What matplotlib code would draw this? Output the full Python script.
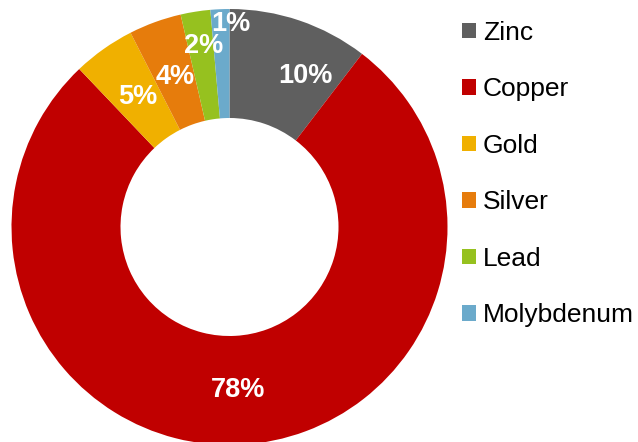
import numpy as np
import matplotlib.pyplot as plt

plt.rcParams['font.family'] = ['Liberation Sans', 'DejaVu Sans']

# данные
metals = ['Zinc', 'Copper', 'Gold', 'Silver', 'Lead', 'Molybdenum']
shares = [10.4, 77.5, 4.6, 3.9, 2.2, 1.4]
pct_labels = ['10%', '78%', '5%', '4%', '2%', '1%']
colors = ['#5F5F5F', '#C00000', '#F0B000', '#E67C0C', '#96C11F', '#6BAACB']
# положение подписей: доля радиуса и сдвиг угла (град.)
label_r = [0.775, 0.75, 0.73, 0.73, 0.84, 0.93]
label_shift = [-8, 0, 0, 0, -1, -3]

fig = plt.figure(figsize=(6.38, 4.42), dpi=100)
ax = fig.add_axes([11.5 / 638, -3 / 442, 436 / 638, 436 / 442])

wedges, _ = ax.pie(shares, colors=colors, startangle=90, counterclock=False,
                   radius=1, wedgeprops=dict(width=0.5, linewidth=0))
ax.set_xlim(-1, 1)
ax.set_ylim(-1, 1)
ax.set_aspect('equal')
ax.axis('off')

# подписи процентов
for w, lab, r, d in zip(wedges, pct_labels, label_r, label_shift):
    ang = np.deg2rad((w.theta1 + w.theta2) / 2 + d)
    ax.text(r * np.cos(ang), r * np.sin(ang), lab, ha='center', va='center',
            color='white', fontsize=19.5, fontweight='bold')

# легенда
fig.legend(wedges, metals, loc='upper left', bbox_to_anchor=(462 / 638, 1 - 21 / 442),
           frameon=False, fontsize=19, handlelength=0.53, handleheight=0.53,
           handletextpad=0.27, labelspacing=1.23, borderpad=0, borderaxespad=0)

fig.savefig('out.png', dpi=100)
